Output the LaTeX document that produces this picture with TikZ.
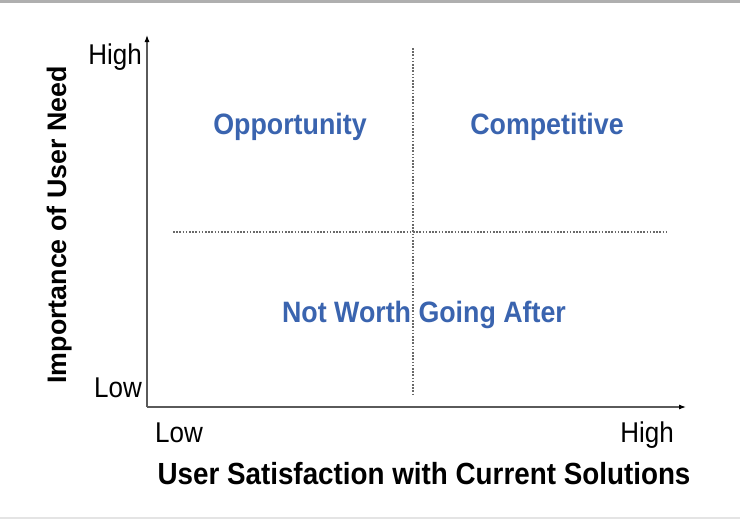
\documentclass[tikz,border=0pt]{standalone}
\usepackage{fontspec}
\usepackage{graphicx}
\setmainfont{Liberation Sans}
\usetikzlibrary{arrows.meta}
\definecolor{axisgray}{RGB}{90,90,90}
\definecolor{dotgray}{RGB}{105,105,105}
\definecolor{quadblue}{RGB}{58,100,175}
\definecolor{topbar}{RGB}{175,175,175}
\definecolor{botline}{RGB}{228,228,228}
\newcommand{\tallt}[1]{\scalebox{1}[1.1]{#1}}
\begin{document}
\begin{tikzpicture}[x=1pt,y=-1pt,
  axisline/.style={draw=axisgray,line width=1.1pt,-{Latex[length=7pt,width=5pt,color=black]}},
  divider/.style={draw=dotgray,line width=1.1pt,dash pattern=on 1.6pt off 1.6pt},
  ticklabel/.style={font=\fontsize{26}{30}\selectfont,inner sep=0pt,text=black},
  axistitle/.style={font=\fontsize{27.8}{32}\selectfont\bfseries,inner sep=0pt,text=black},
  quadlabel/.style={font=\fontsize{26.8}{31}\selectfont\bfseries,inner sep=0pt,text=quadblue,anchor=base}]
\useasboundingbox (0,0) rectangle (740,520);
\fill[white] (0,0) rectangle (740,520);
\fill[topbar] (0,0) rectangle (740,3);
\fill[botline] (0,517) rectangle (740,519);
% axes
\coordinate (origin) at (147,407);
\coordinate (ytip) at (147,35);
\coordinate (xtip) at (686,407);
\draw[axisline] (origin) -- (ytip);
\draw[axisline] (origin) -- (xtip);
% dividers
\coordinate (vtop) at (413,48);
\coordinate (vbot) at (413,396);
\coordinate (hleft) at (173,232);
\coordinate (hright) at (668,232);
\draw[divider] (vtop) -- (vbot);
\draw[divider] (hleft) -- (hright);
% tick labels
\node[ticklabel,anchor=base east] (yhigh) at (142,64) {\tallt{High}};
\node[ticklabel,anchor=base east] (ylow) at (142,397) {\tallt{Low}};
\node[ticklabel,anchor=base west] (xlow) at (155,442) {\tallt{Low}};
\node[ticklabel,anchor=base east] (xhigh) at (674,442) {\tallt{High}};
% axis titles
\node[axistitle,anchor=base] (xtitle) at (424,484) {\tallt{User Satisfaction with Current Solutions}};
\node[axistitle,font=\fontsize{26.8}{31}\selectfont\bfseries,anchor=base,rotate=90] (ytitle) at (66,225) {Importance of User Need};
% quadrant labels
\node[quadlabel] (opp) at (290,134) {\tallt{Opportunity}};
\node[quadlabel] (comp) at (547,134) {\tallt{Competitive}};
\node[quadlabel] (nwga) at (424,322) {\tallt{Not Worth Going After}};
\end{tikzpicture}
\end{document}
